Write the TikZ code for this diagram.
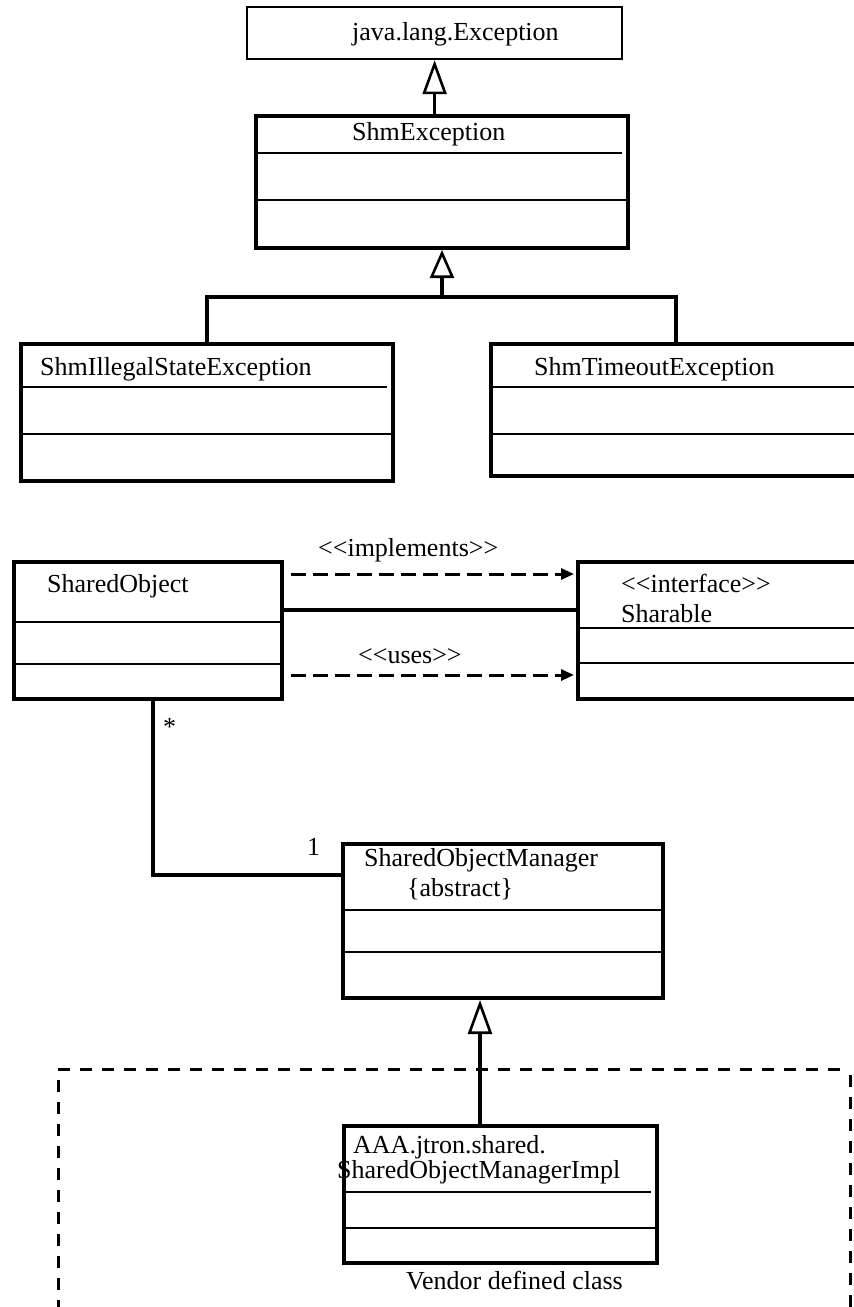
\documentclass[tikz,border=0pt]{standalone}
\usepackage{fontspec}
\setmainfont{Liberation Serif}
\usetikzlibrary{arrows.meta,calc}
\newcommand{\dlt}{<\kern0pt<}
\newcommand{\dgt}{>\kern0pt>}
\begin{document}
\begin{tikzpicture}[x=1pt,y=-1pt,
  cls/.style={draw, line width=4pt, inner sep=0pt, anchor=north west},
  thincls/.style={draw, line width=2.2pt, inner sep=0pt, anchor=north west},
  comp/.style={line width=1.3pt},
  txt/.style={anchor=base west, inner sep=0pt, align=left, font=\fontsize{26}{23}\selectfont},
  conn/.style={line width=3.4pt},
  gen/.style={conn, -{Triangle[open, length=34pt, width=24pt, line width=2.6pt]}},
  genshort/.style={conn, -{Triangle[open, length=28pt, width=24pt, line width=2.6pt]}},
  dep/.style={line width=3pt, dash pattern=on 15pt off 7pt, -{Triangle[length=13pt, width=11pt]}},
  frameline/.style={line width=3pt, dash pattern=on 12pt off 10pt}]
\useasboundingbox (0,0) rectangle (854,1307);

% class boxes
\node[thincls, minimum width=375pt, minimum height=52pt] (exc) at (246,6) {};
\node[cls, minimum width=372pt, minimum height=132pt] (shm) at (254,114) {};
\node[cls, minimum width=372pt, minimum height=137pt] (ill) at (19,342) {};
\node[cls, minimum width=370pt, minimum height=132pt] (tout) at (489,342) {};
\node[cls, minimum width=268pt, minimum height=137pt] (so) at (12,560) {};
\node[cls, minimum width=304pt, minimum height=137pt] (shar) at (576,560) {};
\node[cls, minimum width=320pt, minimum height=154pt] (som) at (341,842) {};
\node[cls, minimum width=313pt, minimum height=137pt] (impl) at (342,1124) {};

% compartments
\draw[comp] (257,153) -- (622,153);  \draw[comp] (254,200) -- (626,200);
\draw[comp] (19,387) -- (387,387);   \draw[comp] (19,434) -- (391,434);
\draw[comp] (493,387) -- (860,387);  \draw[comp] (493,434) -- (860,434);
\draw[comp] (12,622) -- (280,622);   \draw[comp] (12,664) -- (280,664);
\draw[comp] (576,628) -- (880,628);  \draw[comp] (576,663) -- (880,663);
\draw[comp] (341,910) -- (661,910);  \draw[comp] (341,952) -- (661,952);
\draw[comp] (346,1192) -- (651,1192); \draw[comp] (342,1228) -- (655,1228);

% texts
\node[txt] (texc) at (352,40) {java.lang.Exception};
\node[txt] (tshm) at (352,140) {ShmException};
\node[txt] (till) at (40,375) {ShmIllegalStateException};
\node[txt] (ttout) at (534,375) {ShmTimeoutException};
\node[txt] (tso) at (47,592) {SharedObject};
\node[txt] (tshar) at (621,622) {\dlt interface\dgt\\[7pt]Sharable};
\node[txt] (tsom) at (364,896) {SharedObjectManager\\[5pt]\hspace*{43pt}\{abstract\}};
\node[txt] (timpl) at (337,1178) {\hspace*{16pt}AAA.jtron.shared.\\SharedObjectManagerImpl};
\node[txt] (tvend) at (406,1289) {Vendor defined class};
\node[txt] (timp) at (318,556) {\dlt implements\dgt};
\node[txt] (tuses) at (358,663) {\dlt uses\dgt};
\node[txt] (tstar) at (163,735) {*};
\node[txt] (tone) at (307,855) {1};

% connectors
\draw[gen] (exc.south |- shm.north) -- (exc.south);
\coordinate (j1) at ($(shm.south)+(0,47)$);
\draw[genshort] (j1) -- (shm.south);
\draw[conn] (ill.north) |- (j1) -| (tout.north);

\draw[dep] ($(so.north east)+(7,14)$) -- ($(shar.north west)+(-2,14)$);
\draw[conn] ($(so.north east)+(0,50)$) -- ($(shar.north west)+(0,50)$);
\draw[dep] ($(so.north east)+(7,115)$) -- ($(shar.north west)+(-2,115)$);

\draw[conn] ($(so.south west)+(141,0)$) |- ($(som.north west)+(0,33)$);
\draw[gen] ($(impl.north west)+(138,0)$) -- ($(som.south west)+(139,0)$);

% vendor frame
\draw[frameline] (58,1069) -- (845,1069);
\draw[frameline] (58,1080) -- (58,1312);
\draw[frameline] (850,1075) -- (850,1312);
\end{tikzpicture}
\end{document}
